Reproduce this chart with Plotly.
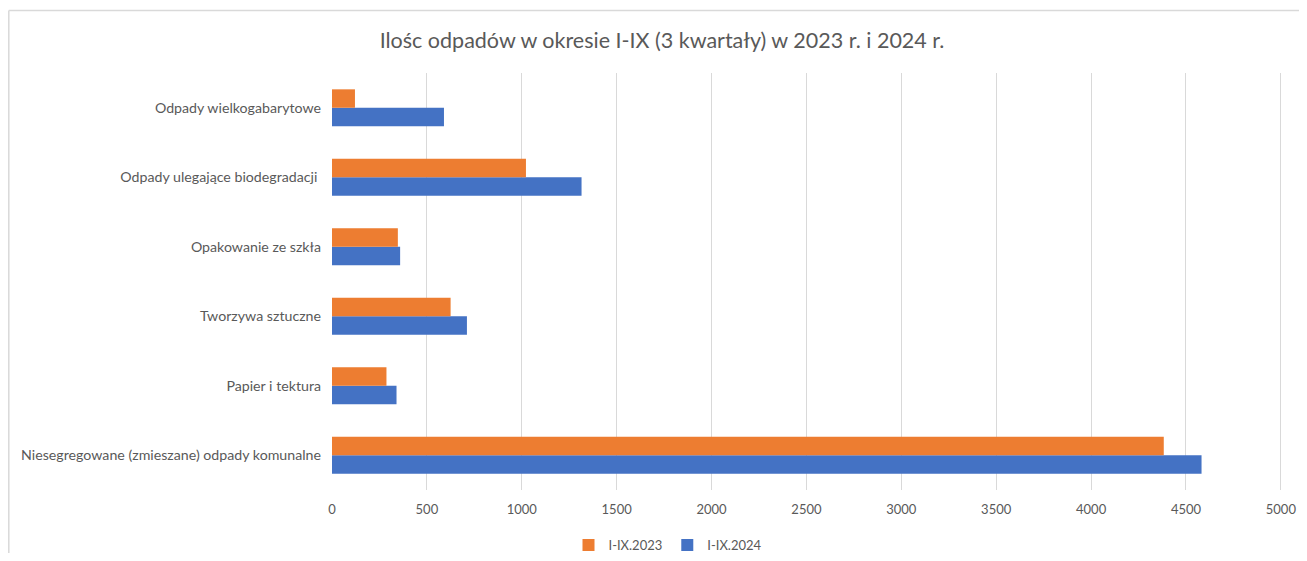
import plotly.graph_objects as go

categories = [
    "Niesegregowane (zmieszane) odpady komunalne",
    "Papier i tektura",
    "Tworzywa sztuczne",
    "Opakowanie ze szkła",
    "Odpady ulegające biodegradacji ",
    "Odpady wielkogabarytowe",
]
values_2023 = [4383, 287, 625, 347, 1022, 121]
values_2024 = [4582, 340, 711, 359, 1315, 590]
series_names = ["I-IX.2023", "I-IX.2024"]
x_ticks = [0, 500, 1000, 1500, 2000, 2500, 3000, 3500, 4000, 4500, 5000]

fig = go.Figure()
fig.add_trace(go.Bar(
    y=categories, x=values_2024, orientation="h", name=series_names[1],
    marker=dict(color="#4472C4", line=dict(width=0)), legendrank=2,
))
fig.add_trace(go.Bar(
    y=categories, x=values_2023, orientation="h", name=series_names[0],
    marker=dict(color="#ED7D31", line=dict(width=0)), legendrank=1,
))

font_family = "Lato, 'Open Sans', sans-serif"
OFF = 8  # page body margin
W, H = 1307 - 2 * OFF, 561 - 2 * OFF
L, T = 332 - OFF, 73 - OFF
R = W - (1282 - OFF)
B = H - (490 - OFF)
pw, ph = W - L - R, H - T - B

fig.update_layout(
    width=W, height=H,
    paper_bgcolor="white", plot_bgcolor="white",
    margin=dict(l=L, r=R, t=T, b=B, autoexpand=False),
    barmode="group", bargap=0.47, bargroupgap=0,
    font=dict(family=font_family, color="#595959", size=14),
    title=dict(
        text="Ilośc odpadów w okresie I-IX (3 kwartały) w 2023 r. i 2024 r.",
        x=(662 - OFF) / W, xanchor="center", y=1 - (40 - OFF) / H, yanchor="middle",
        xref="container", yref="container",
        font=dict(size=21.5, color="#595959", family=font_family),
    ),
    xaxis=dict(
        range=[0, 5006], tickvals=x_ticks, ticktext=[str(v) for v in x_ticks],
        showgrid=True, gridcolor="#D9D9D9", gridwidth=1, automargin=False,
        zeroline=False, showline=False, ticks="", ticklabelstandoff=10,
        ticklabeloverflow="allow",
        tickfont=dict(size=13, color="#595959"), fixedrange=True,
    ),
    yaxis=dict(
        type="category", categoryorder="array", categoryarray=categories,
        showgrid=False, zeroline=False, showline=False, ticks="", automargin=False,
        ticklabelstandoff=10, tickfont=dict(size=14.2, color="#595959"),
    ),
    legend=dict(
        orientation="h", x=(668 - 332) / (1282 - 332), xanchor="center",
        y=-(545 - 490) / ph, yanchor="middle",
        font=dict(size=13, color="#595959"), itemwidth=30, traceorder="normal",
    ),
    showlegend=True,
)
# Outer chart border (top and left visible edges)
top_y = 1 + (T - (10.5 - OFF)) / ph
left_x = (0.8 - L) / pw
fig.add_shape(type="line", xref="x domain", yref="y domain",
              x0=left_x, x1=(W - L) / pw, y0=top_y, y1=top_y,
              line=dict(color="#D9D9D9", width=1.5))
fig.add_shape(type="line", xref="x domain", yref="y domain",
              x0=left_x, x1=left_x, y0=-B / ph, y1=top_y,
              line=dict(color="#D9D9D9", width=1.5))

fig.write_html("out.html")
